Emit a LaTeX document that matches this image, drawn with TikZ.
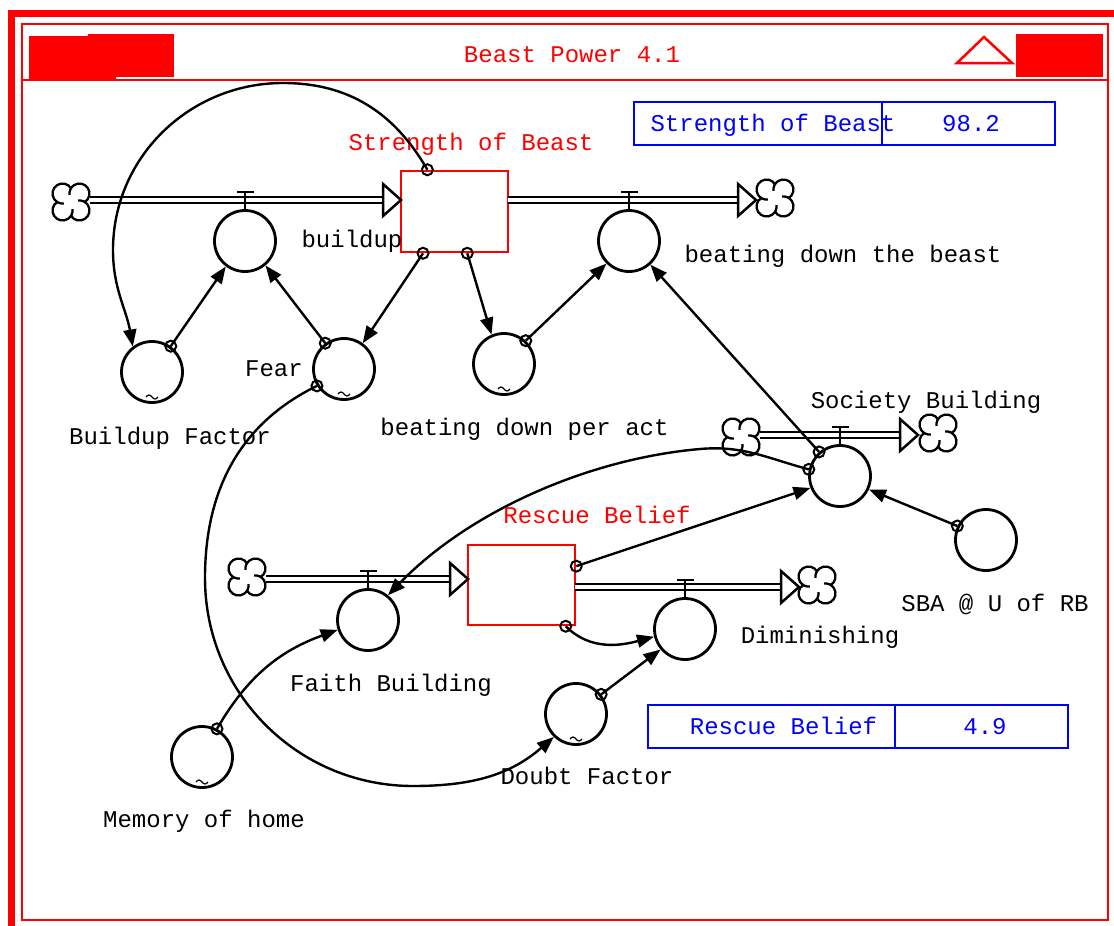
\documentclass[tikz,border=0pt]{standalone}
\usepackage{fontspec}
\setmainfont{Liberation Mono}
\usetikzlibrary{arrows.meta}
\definecolor{fr}{RGB}{255,0,0}
\definecolor{bl}{RGB}{0,0,255}
\newcommand\flowpipe[2]{\draw[pipe] (#1) -- ([xshift=-18pt]#2);
  \draw[head] (#2) -- ++(-18,16) -- ++(0,-32) -- cycle;}
\newcommand\valvebar[1]{\draw[line width=2.5pt] ([yshift=49pt]#1.center) ++(-8.5,0) -- ++(17,0);
  \draw[line width=2.5pt] ([yshift=49pt]#1.center) -- (#1.north);}
\begin{document}
\begin{tikzpicture}[x=1pt,y=1pt,
  every node/.style={font=\fontsize{24}{24}\selectfont},
  lbl/.style={anchor=base, inner sep=0},
  aux/.style={circle, draw, line width=2.8pt, minimum size=61pt, inner sep=0},
  stock/.style={rectangle, draw=fr, line width=2.5pt, inner sep=0},
  link/.style={line width=2.4pt, -{Triangle[length=17pt,width=13pt]}},
  dotn/.style={circle, draw, line width=2pt, minimum size=11pt, inner sep=0},
  pipe/.style={double, line width=2.4pt, double distance=3.4pt},
  head/.style={draw, fill=white, line width=2.5pt, line join=miter},
  cloudn/.style={inner sep=0, minimum size=38pt},
  cloud/.pic={\foreach \k in {0,1,2,3}{
      \draw[line width=2.3pt, rotate=90*\k] (13.77,0) arc[start angle=-58, end angle=188, radius=10];}},
  tild/.pic={\draw[line width=1.2pt] (-6,0) sin (-3,2) cos (0,0) sin (3,-2) cos (6,0);},
]
\useasboundingbox (0,0) rectangle (1114,-926);
% window frame
\fill[fr] (8,-10) rectangle (1114,-17);
\fill[fr] (8,-10) rectangle (15,-926);
\draw[fr, line width=2.4pt] (22,-24) rectangle (1108,-920);
\draw[fr, line width=2.4pt] (22,-80) -- (1108,-80);
\fill[fr] (29,-36) rectangle (116,-79);
\fill[fr] (88,-34) rectangle (174,-77);
\fill[fr] (1016,-34) rectangle (1103,-77);
\draw[fr, line width=2.5pt, line join=miter] (957,-63) -- (984,-37) -- (1012,-63) -- cycle;
\node[lbl, text=fr] (title) at (572,-62) {Beast Power 4.1};

% stocks
\node[stock, minimum width=107pt, minimum height=81pt] (sob) at (454.5,-211.5) {};
\node[lbl, text=fr] (sobl) at (471,-150) {Strength of Beast};
\node[stock, minimum width=107pt, minimum height=80pt] (rb) at (521.5,-585) {};
\node[lbl, text=fr] (rbl) at (597,-523) {Rescue Belief};

% auxiliaries / flows
\node[aux] (buildupV) at (245,-241) {};
\node[aux] (beatV) at (629,-241) {};
\node[aux] (bf) at (152,-372) {};
\node[aux] (fear) at (344,-369) {};
\node[aux] (bdpa) at (504,-364) {};
\node[aux] (sbV) at (840,-476) {};
\node[aux] (sba) at (986,-540) {};
\node[aux] (fbV) at (368,-620) {};
\node[aux] (dimV) at (685,-629) {};
\node[aux] (doubt) at (576,-714) {};
\node[aux] (mem) at (202,-757) {};
\pic at ([yshift=-25pt]bf.center) {tild};
\pic at ([yshift=-25pt]fear.center) {tild};
\pic at ([yshift=-25pt]bdpa.center) {tild};
\pic at ([yshift=-25pt]doubt.center) {tild};
\pic at ([yshift=-25pt]mem.center) {tild};

% clouds
\node[cloudn] (cl1) at (71,-202) {}; \pic at (cl1) {cloud};
\node[cloudn] (cl2) at (775,-198) {}; \pic at (cl2) {cloud};
\node[cloudn] (cl3) at (741,-437) {}; \pic at (cl3) {cloud};
\node[cloudn] (cl4) at (938,-433) {}; \pic at (cl4) {cloud};
\node[cloudn] (cl5) at (247,-577) {}; \pic at (cl5) {cloud};
\node[cloudn] (cl6) at (817,-585) {}; \pic at (cl6) {cloud};

% pipes
\coordinate (p1a) at (90,-200);  \coordinate (p1b) at (401,-200);
\coordinate (p2a) at (508,-200); \coordinate (p2b) at (756,-200);
\coordinate (p3a) at (760,-435); \coordinate (p3b) at (918,-435);
\coordinate (p4a) at (266,-579); \coordinate (p4b) at (468,-579);
\coordinate (p5a) at (575,-587); \coordinate (p5b) at (799,-587);
\flowpipe{p1a}{p1b}
\flowpipe{p2a}{p2b}
\flowpipe{p3a}{p3b}
\flowpipe{p4a}{p4b}
\flowpipe{p5a}{p5b}
\valvebar{buildupV}
\valvebar{beatV}
\valvebar{sbV}
\valvebar{fbV}
\valvebar{dimV}

% labels
\node[lbl] at (352,-247) {buildup};
\node[lbl] at (843,-262) {beating down the beast};
\node[lbl] at (274,-376) {Fear};
\node[lbl] at (170,-444) {Buildup Factor};
\node[lbl] at (524.5,-435) {beating down per act};
\node[lbl] at (926,-408) {Society Building};
\node[lbl] at (995,-611) {SBA @ U of RB};
\node[lbl] at (391,-691) {Faith Building};
\node[lbl] at (820,-643) {Diminishing};
\node[lbl] at (587,-784) {Doubt Factor};
\node[lbl] at (204,-827) {Memory of home};

% displays
\draw[bl, line width=2.4pt] (634,-102) rectangle (1055,-145);
\draw[bl, line width=2.4pt] (882,-102) -- (882,-145);
\node[lbl, text=bl] at (773,-131) {Strength of Beast};
\node[lbl, text=bl] at (971,-131) {98.2};
\draw[bl, line width=2.4pt] (648,-705) rectangle (1068,-748);
\draw[bl, line width=2.4pt] (895,-705) -- (895,-748);
\node[lbl, text=bl] at (783.5,-734) {Rescue Belief};
\node[lbl, text=bl] at (985,-734) {4.9};

% connectors
\draw[link] (sob.123) node[dotn]{} to[out=120,in=0] (283,-83) to[out=180,in=90] (113,-250) to[out=-90,in=100] (bf.127);
\draw[link] (bf.54) node[dotn]{} -- (buildupV.233);
\draw[link] (fear.126) node[dotn]{} -- (buildupV.310);
\draw[link] (sob.233) node[dotn]{} -- (fear.54);
\draw[link] (sob.287) node[dotn]{} -- (bdpa.113);
\draw[link] (bdpa.47) node[dotn]{} -- (beatV.225);
\draw[link] (sbV.131) node[dotn]{} -- (beatV.312);
\draw[link] (fear.212) node[dotn]{} to[out=206,in=90] (205,-578) to[out=-90,in=180] (413,-786) to[out=0,in=221] (doubt.226);
\draw[link] (sbV.168) node[dotn]{} to[out=165,in=5] (700,-449) to[out=185,in=46,looseness=0.85] (fbV.51);
\draw[link] (rb.19) node[dotn]{} -- (sbV.202);
\draw[link] (sba.154) node[dotn]{} -- (sbV.335);
\draw[link] (rb.317) node[dotn]{} to[out=-45,in=195] (dimV.194);
\draw[link] (doubt.38) node[dotn]{} -- (dimV.220);
\draw[link] (mem.62) node[dotn]{} to[out=60,in=200] (fbV.198);
\end{tikzpicture}
\end{document}
